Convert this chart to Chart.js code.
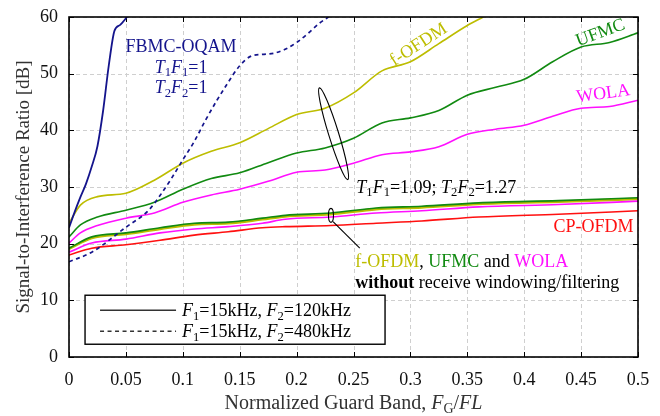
<!DOCTYPE html>
<html>
<head>
<meta charset="utf-8">
<script src="https://cdn.jsdelivr.net/npm/chart.js@4.4.0/dist/chart.umd.min.js"></script>
<style>
  html, body { margin: 0; background: #fff; }
  #wrap { width: 660px; height: 416px; }
</style>
</head>
<body>
<div id="wrap"><canvas id="sirChart"></canvas></div>
<script>
// ---- axis ticks ----
const xTicks = [0, 0.05, 0.1, 0.15, 0.2, 0.25, 0.3, 0.35, 0.4, 0.45, 0.5];
const yTicks = [0, 10, 20, 30, 40, 50, 60];

// ---- FBMC-OQAM ----
const fbmc120X = [0, 0.005, 0.01, 0.015, 0.02, 0.025, 0.03, 0.035, 0.04, 0.045, 0.051];
const fbmc120Y = [22.8, 25.6, 28.2, 30.6, 33.6, 37.2, 43.5, 51.5, 57.6, 58.6, 60];
const fbmc480X = [0, 0.02, 0.05, 0.07, 0.08, 0.09, 0.1, 0.11, 0.12, 0.13, 0.14, 0.15, 0.16, 0.17, 0.18, 0.19, 0.2, 0.21, 0.22, 0.228];
const fbmc480Y = [16.8, 18.5, 22.9, 25.9, 28.5, 31.5, 34.8, 38.0, 41.8, 45.3, 48.5, 51.4, 53.1, 53.4, 53.6, 54.3, 55.5, 57.1, 58.9, 60];

// ---- with receive windowing / filtering (T1F1=1.09; T2F2=1.27) ----
const gridX = [0, 0.01, 0.025, 0.05, 0.075, 0.1, 0.125, 0.15, 0.175, 0.2, 0.225, 0.25, 0.275, 0.3, 0.325, 0.35, 0.375, 0.4, 0.425, 0.45, 0.475, 0.5];
const fofdmRxX = [0, 0.01, 0.025, 0.05, 0.075, 0.1, 0.125, 0.15, 0.175, 0.2, 0.225, 0.25, 0.275, 0.3, 0.325, 0.35, 0.364];
const fofdmRxY = [23.6, 26.8, 28.3, 28.9, 31.2, 34.2, 36.3, 37.8, 40.3, 42.8, 43.9, 46.6, 50.5, 52.1, 55.3, 58.5, 60];
const ufmcRxY  = [21.2, 23.3, 24.7, 25.9, 27.3, 29.6, 31.5, 32.5, 34.3, 36.0, 36.9, 38.6, 41.3, 42.2, 43.5, 46.2, 47.6, 49.0, 52.1, 54.7, 55.5, 57.2];
const wolaRxY  = [20.1, 21.9, 23.2, 24.5, 25.4, 27.3, 28.6, 29.6, 31.0, 32.6, 33.0, 34.2, 35.7, 36.2, 37.1, 39.3, 40.2, 40.9, 42.5, 43.9, 44.2, 45.3];

// ---- without receive windowing / filtering ----
const lowX      = [0, 0.02, 0.05, 0.08, 0.11, 0.14, 0.17, 0.19, 0.23, 0.27, 0.31, 0.36, 0.43, 0.5];
const ufmcY     = [19.2, 21.2, 21.9, 22.8, 23.6, 23.8, 24.5, 25.0, 25.4, 26.3, 26.6, 27.2, 27.6, 28.1];
const fofdmY    = [19.1, 21.0, 21.7, 22.6, 23.4, 23.6, 24.3, 24.8, 25.2, 26.1, 26.4, 27.0, 27.4, 27.9];
const wolaY     = [18.5, 20.1, 20.8, 21.9, 22.6, 23.0, 23.6, 24.3, 24.7, 25.4, 25.8, 26.5, 26.9, 27.5];
const cpofdmY   = [18.0, 19.2, 19.8, 20.6, 21.5, 22.1, 22.8, 23.0, 23.2, 23.6, 24.0, 24.7, 25.2, 25.8];

const NAVY = '#14148c', OLIVE = '#bdbd00', GREEN = '#118a11', MAGENTA = '#ff10ff', RED = '#ff1010';
const SERIF = '"Liberation Serif", "DejaVu Serif", serif';

function zip(xs, ys) {
  return xs.map((x, i) => ({ x: x, y: ys[i] }));
}

function line(data, color, width, dash) {
  return {
    data: data,
    borderColor: color,
    borderWidth: width || 1.6,
    borderDash: dash || [],
    pointRadius: 0,
    cubicInterpolationMode: 'monotone',
    fill: false
  };
}

// rich text: segments of {t, i (italic), b (bold), sub, c (colour)}
function richWidth(ctx, segs, size) {
  let w = 0;
  segs.forEach(s => {
    const fs = s.sub ? size * 0.7 : size;
    ctx.font = (s.i ? 'italic ' : '') + (s.b ? 'bold ' : '') + fs + 'px ' + SERIF;
    w += ctx.measureText(s.t).width;
  });
  return w;
}

function richText(ctx, segs, x, y, size, align, color) {
  let cx = x;
  const w = richWidth(ctx, segs, size);
  if (align === 'center') cx = x - w / 2;
  if (align === 'right') cx = x - w;
  ctx.textBaseline = 'alphabetic';
  ctx.textAlign = 'left';
  segs.forEach(s => {
    const fs = s.sub ? size * 0.7 : size;
    ctx.font = (s.i ? 'italic ' : '') + (s.b ? 'bold ' : '') + fs + 'px ' + SERIF;
    ctx.fillStyle = s.c || color || '#000';
    ctx.fillText(s.t, cx, s.sub ? y + size * 0.2 : y);
    cx += ctx.measureText(s.t).width;
  });
}

function mathT(n, val) {
  return [{ t: 'T', i: true }, { t: n, sub: true }, { t: 'F', i: true }, { t: n, sub: true }, { t: '=' + val }];
}

const frame = {
  id: 'frame',
  beforeDatasetsDraw(chart) {
    const { ctx, chartArea: a, scales: { x, y } } = chart;
    ctx.save();
    // dashed grid
    ctx.strokeStyle = '#cfcfcf';
    ctx.lineWidth = 1;
    ctx.setLineDash([4, 3]);
    xTicks.forEach(v => {
      const p = Math.round(x.getPixelForValue(v)) + 0.5;
      ctx.beginPath();
      ctx.moveTo(p, a.top); ctx.lineTo(p, a.bottom);
      ctx.stroke();
    });
    yTicks.forEach(v => {
      const p = Math.round(y.getPixelForValue(v)) + 0.5;
      ctx.beginPath();
      ctx.moveTo(a.left, p); ctx.lineTo(a.right, p);
      ctx.stroke();
    });
    ctx.setLineDash([]);
    // inward tick marks on all four sides
    ctx.strokeStyle = '#000';
    xTicks.forEach(v => {
      const p = Math.round(x.getPixelForValue(v)) + 0.5;
      ctx.beginPath();
      ctx.moveTo(p, a.bottom); ctx.lineTo(p, a.bottom - 5);
      ctx.moveTo(p, a.top); ctx.lineTo(p, a.top + 5);
      ctx.stroke();
    });
    yTicks.forEach(v => {
      const p = Math.round(y.getPixelForValue(v)) + 0.5;
      ctx.beginPath();
      ctx.moveTo(a.left, p); ctx.lineTo(a.left + 5, p);
      ctx.moveTo(a.right, p); ctx.lineTo(a.right - 5, p);
      ctx.stroke();
    });
    ctx.restore();
  },
  afterDatasetsDraw(chart) {
    const { ctx, chartArea: a, scales: { x, y } } = chart;
    const px = v => x.getPixelForValue(v);
    const py = v => y.getPixelForValue(v);
    ctx.save();

    // border
    ctx.strokeStyle = '#000';
    ctx.lineWidth = 1.6;
    ctx.strokeRect(a.left, a.top, a.right - a.left, a.bottom - a.top);

    // FBMC label
    richText(ctx, [{ t: 'FBMC-OQAM' }], px(0.0985), py(53.8), 18, 'center', NAVY);
    richText(ctx, mathT('1', '1'), px(0.0985), py(50.2), 18, 'center', NAVY);
    richText(ctx, mathT('2', '1'), px(0.0985), py(46.6), 18, 'center', NAVY);

    // rotated curve labels
    const rot = (txt, cx, cy, deg, color) => {
      ctx.save();
      ctx.translate(px(cx), py(cy));
      ctx.rotate(deg * Math.PI / 180);
      ctx.font = '18px ' + SERIF;
      ctx.fillStyle = color;
      ctx.textAlign = 'center';
      ctx.textBaseline = 'alphabetic';
      ctx.fillText(txt, 0, 0);
      ctx.restore();
    };
    rot('f-OFDM', 0.3095, 54.4, -33, OLIVE);
    rot('UFMC', 0.4685, 56.4, -20, GREEN);
    rot('WOLA', 0.4700, 45.6, -8, MAGENTA);

    // windowing annotation
    richText(ctx, mathT('1', '1.09; ').concat(mathT('2', '1.27')), px(0.2525), py(29.0), 18, 'left', '#000');
    richText(ctx, [{ t: 'CP-OFDM' }], px(0.496), py(22.0), 18, 'right', RED);
    richText(ctx, [{ t: 'f-OFDM', c: OLIVE }, { t: ', ' }, { t: 'UFMC', c: GREEN }, { t: ' and ' }, { t: 'WOLA', c: MAGENTA }],
      px(0.2515), py(15.8), 18, 'left', '#000');
    richText(ctx, [{ t: 'without', b: true }, { t: ' receive windowing/filtering' }], px(0.2515), py(12.1), 18, 'left', '#000');

    // ellipses and pointer
    ctx.strokeStyle = '#000';
    ctx.lineWidth = 1.1;
    ctx.beginPath();
    ctx.ellipse(px(0.2325), py(39.4), 5, 48, -0.3, 0, Math.PI * 2);
    ctx.stroke();
    ctx.beginPath();
    ctx.ellipse(px(0.2302), py(25.0), 2.5, 7, 0, 0, Math.PI * 2);
    ctx.stroke();
    ctx.beginPath();
    ctx.moveTo(px(0.2320), py(23.9));
    ctx.lineTo(px(0.2555), py(19.2));
    ctx.stroke();

    // legend box
    const bx = px(0.0141), byTop = py(10.9), bw = 300, bh = 49;
    ctx.fillStyle = '#fff';
    ctx.fillRect(bx, byTop, bw, bh);
    ctx.strokeStyle = '#000';
    ctx.lineWidth = 1.4;
    ctx.strokeRect(bx, byTop, bw, bh);
    ctx.lineWidth = 1.6;
    ctx.strokeStyle = '#333';
    ctx.beginPath();
    ctx.moveTo(bx + 15, byTop + 15); ctx.lineTo(bx + 91, byTop + 15);
    ctx.stroke();
    ctx.lineWidth = 1.3;
    ctx.setLineDash([4, 3.5]);
    ctx.beginPath();
    ctx.moveTo(bx + 15, byTop + 36); ctx.lineTo(bx + 91, byTop + 36);
    ctx.stroke();
    ctx.setLineDash([]);
    const legTxt = v => [{ t: 'F', i: true }, { t: '1', sub: true }, { t: '=15kHz, ' }, { t: 'F', i: true }, { t: '2', sub: true }, { t: '=' + v + 'kHz' }];
    richText(ctx, legTxt('120'), bx + 97, byTop + 21, 18, 'left', '#000');
    richText(ctx, legTxt('480'), bx + 97, byTop + 42, 18, 'left', '#000');

    // x axis title
    const xt = [{ t: 'Normalized Guard Band, ' }, { t: 'F', i: true }, { t: 'G', sub: true }, { t: '/' }, { t: 'FL', i: true }];
    richText(ctx, xt, (a.left + a.right) / 2, 409, 20, 'center', '#333');

    ctx.restore();
  }
};

const ctx = document.getElementById('sirChart').getContext('2d');
new Chart(ctx, {
  type: 'line',
  data: {
    datasets: [
      line(zip(fbmc120X, fbmc120Y), NAVY, 1.8),
      line(zip(fbmc480X, fbmc480Y), NAVY, 1.7, [4, 3.5]),
      line(zip(fofdmRxX, fofdmRxY), OLIVE),
      line(zip(gridX, ufmcRxY), GREEN),
      line(zip(gridX, wolaRxY), MAGENTA),
      line(zip(lowX, cpofdmY), RED),
      line(zip(lowX, ufmcY), GREEN),
      line(zip(lowX, wolaY), MAGENTA),
      line(zip(lowX, fofdmY), OLIVE, 2.6)
    ]
  },
  plugins: [frame],
  options: {
    responsive: true,
    maintainAspectRatio: false,
    animation: false,
    events: [],
    layout: { padding: { left: 0, top: 17, right: 22, bottom: 0 } },
    plugins: { legend: { display: false }, tooltip: { enabled: false } },
    scales: {
      x: {
        type: 'linear',
        min: 0,
        max: 0.5,
        afterFit: s => { s.height = 59; s.paddingLeft = 0; s.paddingRight = 0; },
        afterBuildTicks: s => { s.ticks = xTicks.map(v => ({ value: v })); },
        grid: { display: false, drawTicks: false },
        border: { display: false },
        ticks: {
          padding: 12,
          color: '#111',
          font: { family: SERIF, size: 18 },
          callback: v => String(v)
        }
      },
      y: {
        min: 0,
        max: 60,
        afterFit: s => { s.width = 69; s.paddingTop = 0; s.paddingBottom = 0; },
        afterBuildTicks: s => { s.ticks = yTicks.map(v => ({ value: v })); },
        grid: { display: false, drawTicks: false },
        border: { display: false },
        ticks: {
          padding: 11,
          color: '#111',
          font: { family: SERIF, size: 18 }
        },
        title: {
          display: true,
          text: 'Signal-to-Interference Ratio [dB]',
          color: '#333',
          font: { family: SERIF, size: 19 },
          padding: { top: 13, bottom: 0 }
        }
      }
    }
  }
});
</script>
</body>
</html>
